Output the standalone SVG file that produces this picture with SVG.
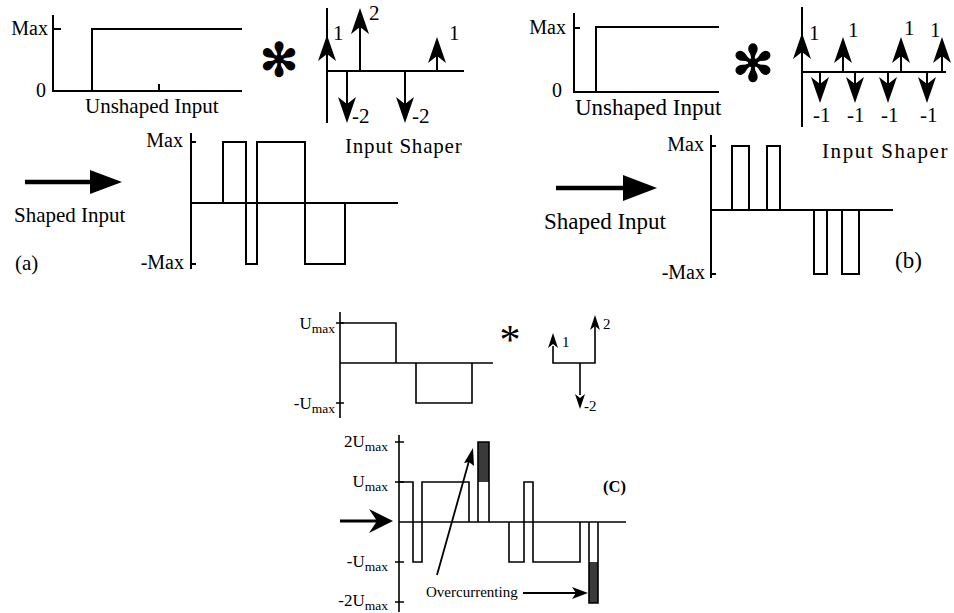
<svg xmlns="http://www.w3.org/2000/svg" width="954" height="613" viewBox="0 0 954 613">
<style>
  text { font-family: "Liberation Serif", "Times New Roman", serif; fill: #000; }
  .ln { fill: none; stroke: #000; stroke-width: 2; }
  .thin { fill: none; stroke: #000; stroke-width: 1.6; }
  .hd { fill: #000; stroke: none; }
  .lbl { font-size: 21px; }
  .big { font-size: 23px; }
  .tick { font-size: 20px; }
  .sm { font-size: 15px; }
  .u { font-size: 17px; }
  .sub { font-size: 13.5px; }
  .star { font-family: "DejaVu Sans", sans-serif; stroke: #000; stroke-width: 1.2; }
  .shade { fill: #3a3a3a; stroke: none; }
</style>
<defs>
  <path id="bighead" d="M0,0 L-9,26 L0,19 L9,26 Z"/>
  <path id="smallhead" d="M0,0 L-5,15 L0,11 L5,15 Z"/>
</defs>
<rect width="954" height="613" fill="#fff"/>

<!-- (a) unshaped input -->
<g id="a-unshaped">
  <path class="ln" d="M53,15 V91 H242 M53,29 H61 M92,91 V29 H242 M159,84 V91"/>
  <text class="tick" x="48" y="35" text-anchor="end">Max</text>
  <text class="tick" x="46" y="97" text-anchor="end">0</text>
  <text class="lbl" x="85" y="113" font-size="22">Unshaped Input</text>
</g>
<g id="a-star"><text class="star" x="279" y="76" font-size="46" text-anchor="middle">✻</text></g>
<g id="a-shaper">
  <path class="ln" d="M327,8 V123 M327,71 H464 M360,71 V20 M437,71 V48 M347,71 V105 M405,71 V105 M327,71 V45"/>
  <use href="#bighead" class="hd" transform="translate(327,35)"/>
  <use href="#bighead" class="hd" transform="translate(360,8)"/>
  <use href="#bighead" class="hd" transform="translate(437,37)"/>
  <use href="#bighead" class="hd" transform="translate(347,123) rotate(180)"/>
  <use href="#bighead" class="hd" transform="translate(405,123) rotate(180)"/>
  <text class="lbl" x="333" y="40">1</text>
  <text class="lbl" x="369" y="20">2</text>
  <text class="lbl" x="449" y="40">1</text>
  <text class="lbl" x="352" y="123">-2</text>
  <text class="lbl" x="412" y="123">-2</text>
  <text class="lbl" x="345" y="153" letter-spacing="0.8">Input Shaper</text>
</g>
<g id="a-shaped">
  <path class="ln" d="M191,133 V269 M191,142 H196 M191,264 H196 M191,203 H398"/>
  <path class="ln" d="M223,203 V142 H246 V264 H257 V142 H305 V264 H345 V203"/>
  <text class="tick" x="183" y="147" text-anchor="end">Max</text>
  <text class="tick" x="184" y="269" text-anchor="end">-Max</text>
  <text class="lbl" x="14" y="222" font-size="22">Shaped Input</text>
  <text class="lbl" x="15" y="270" font-size="24">(a)</text>
</g>

<!-- (b) -->
<g id="b-unshaped">
  <path class="ln" d="M574,13 V92 H719 M574,28 H580 M596,92 V27 H719"/>
  <text class="tick" x="566" y="34" text-anchor="end">Max</text>
  <text class="tick" x="562" y="97" text-anchor="end">0</text>
  <text class="big" x="575" y="115">Unshaped Input</text>
</g>
<g id="b-star"><text class="star" x="753" y="81" font-size="50" text-anchor="middle">✻</text></g>
<g id="b-shaper">
  <path class="ln" d="M802,7 V127 M802,72 H946 M843,72 V55 M901,72 V55 M942,72 V55 M820,72 V85 M855,72 V85 M888,72 V85 M927,72 V85"/>
  <use href="#bighead" class="hd" transform="translate(802,33)"/>
  <use href="#bighead" class="hd" transform="translate(843,37)"/>
  <use href="#bighead" class="hd" transform="translate(901,37)"/>
  <use href="#bighead" class="hd" transform="translate(942,37)"/>
  <use href="#bighead" class="hd" transform="translate(820,103) rotate(180)"/>
  <use href="#bighead" class="hd" transform="translate(855,103) rotate(180)"/>
  <use href="#bighead" class="hd" transform="translate(888,103) rotate(180)"/>
  <use href="#bighead" class="hd" transform="translate(927,103) rotate(180)"/>
  <text class="lbl" x="809" y="40">1</text>
  <text class="lbl" x="848" y="37">1</text>
  <text class="lbl" x="904" y="35">1</text>
  <text class="lbl" x="930" y="37">1</text>
  <text class="lbl" x="813" y="122">-1</text>
  <text class="lbl" x="847" y="122">-1</text>
  <text class="lbl" x="881" y="122">-1</text>
  <text class="lbl" x="920" y="122">-1</text>
  <text class="lbl" x="822" y="158" font-size="22" letter-spacing="1.6">Input Shaper</text>
</g>
<g id="b-shaped">
  <path class="ln" d="M711,135 V278 M711,146 H716 M711,274 H716 M711,210 H893"/>
  <path class="ln" d="M732,210 V146 H749 V210 M767,210 V146 H780 V210 M814,210 V274 H827 V210 M842,210 V274 H859 V210"/>
  <text class="tick" x="704" y="151" text-anchor="end">Max</text>
  <text class="tick" x="705" y="279" text-anchor="end">-Max</text>
  <text class="big" x="544" y="229">Shaped Input</text>
  <text class="big" x="895" y="268" font-size="25">(b)</text>
</g>

<!-- (c) top -->
<g id="c-input">
  <path class="thin" d="M340,312 V418 M336,323 H344 M336,403 H344 M340,363 H493"/>
  <path class="thin" d="M340,323 H396 V363 M416,363 V403 H472 V363"/>
  <text class="u" x="335" y="329" text-anchor="end">U<tspan class="sub" dy="4">max</tspan></text>
  <text class="u" x="335" y="409" text-anchor="end">-U<tspan class="sub" dy="4">max</tspan></text>
</g>
<g id="c-star"><text x="510" y="354" font-size="42" text-anchor="middle">*</text></g>
<g id="c-shaper">
  <path class="thin" d="M553,346 V363 H595 V326 M580,363 V395"/>
  <use href="#smallhead" class="hd" transform="translate(553,333)"/>
  <use href="#smallhead" class="hd" transform="translate(595,315)"/>
  <use href="#smallhead" class="hd" transform="translate(580,409) rotate(180)"/>
  <text class="sm" x="562" y="347" font-size="13">1</text>
  <text class="sm" x="603" y="329">2</text>
  <text class="sm" x="584" y="411">-2</text>
</g>
<!-- (c) bottom -->
<g id="c-output">
  <path class="thin" d="M399,435 V612 M395,442 H404 M395,482 H404 M395,562 H404 M395,602 H404 M399,522 H626"/>
  <rect class="shade" x="478" y="442" width="11" height="40"/>
  <rect class="shade" x="589" y="562" width="9" height="41"/>
  <path class="thin" d="M399,482 H413 V562 H422 V482 H469 V522 M478,522 V442 H489 V522 M509,522 V562 H524 V482 H533 V562 H580 V522 M589,522 V603 H598 V522"/>
  <text class="u" x="388" y="447" text-anchor="end">2U<tspan class="sub" dy="4">max</tspan></text>
  <text class="u" x="388" y="487" text-anchor="end">U<tspan class="sub" dy="4">max</tspan></text>
  <text class="u" x="388" y="567" text-anchor="end">-U<tspan class="sub" dy="4">max</tspan></text>
  <text class="u" x="388" y="606" text-anchor="end">-2U<tspan class="sub" dy="4">max</tspan></text>
  <text class="sm" x="426" y="597">Overcurrenting</text>
  <text x="603" y="492" font-size="16.5" font-weight="bold">(C)</text>
</g>

<!-- connectors -->
<g id="connectors">
  <path d="M25,182 H92" stroke="#000" stroke-width="4.5" fill="none"/>
  <path class="hd" d="M90,170 L122,182 L90,194 Z"/>
  <path d="M556,188 H625" stroke="#000" stroke-width="4.5" fill="none"/>
  <path class="hd" d="M623,175 L657,188 L623,201 Z"/>
  <path d="M340,521 H382" stroke="#000" stroke-width="3" fill="none"/>
  <path class="hd" d="M393,521 L369,509 L377,521 L369,533 Z"/>
  <path d="M437,575 L469,461" stroke="#000" stroke-width="1.8" fill="none"/>
  <path class="hd" d="M473,448 L474,466 L469,462 L464,463 Z"/>
  <path d="M523,593 H576" stroke="#000" stroke-width="1.8" fill="none"/>
  <path class="hd" d="M588,593 L572,587 L576,593 L572,599 Z"/>
</g>
</svg>
